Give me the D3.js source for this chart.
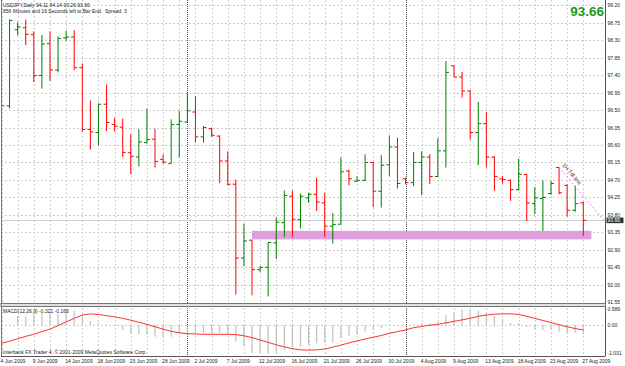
<!DOCTYPE html>
<html>
<head>
<meta charset="utf-8">
<script src="https://cdn.jsdelivr.net/npm/d3@7"></script>
<style>
  html, body { margin: 0; padding: 0; background: #fff; }
  svg { display: block; font-family: "Liberation Sans", Arial, sans-serif; }
</style>
</head>
<body>
<div id="chart"></div>
<script>
// USDJPY daily bars, 4 Jun 2009 .. 27 Aug 2009 (Sunday bars included)
const opens  = [96.30,96.61,98.57,98.62,98.44,97.39,98.21,97.53,98.36,98.38,97.59,96.00,95.92,96.65,96.13,96.06,95.40,95.29,95.66,95.75,
                95.23,95.12,96.13,96.19,96.45,95.81,96.02,95.83,95.19,94.59,92.69,93.15,92.39,92.45,93.08,93.60,94.28,93.68,94.24,94.33,
                94.11,93.51,93.56,94.93,94.67,94.69,95.15,94.41,95.09,95.55,94.73,94.63,95.15,95.29,94.79,95.45,97.64,97.35,96.99,95.92,
                96.15,95.29,94.73,94.69,94.45,94.84,94.09,94.22,94.35,95.02,94.56,93.92,94.11];
const highs  = [96.94,98.83,98.76,98.83,98.53,98.43,98.53,98.40,98.54,98.56,97.70,96.75,96.67,97.16,96.30,96.28,95.88,96.01,96.54,96.02,
                95.36,96.26,96.48,96.96,96.86,96.09,96.05,95.85,95.44,94.71,93.58,93.16,92.48,93.10,93.73,94.43,94.43,94.35,94.37,94.76,
                94.37,93.85,95.28,94.97,94.80,95.36,95.16,95.34,95.85,95.79,94.76,95.42,95.44,95.36,95.78,97.76,97.65,97.48,97.01,96.71,
                96.45,95.31,94.80,94.71,95.25,94.85,94.52,94.69,94.67,95.03,94.59,94.56,94.14];
const lows   = [95.94,96.54,98.42,98.17,97.22,97.05,97.25,97.47,98.28,97.53,95.94,95.48,95.59,95.96,95.95,95.29,94.85,95.05,95.64,95.02,
                95.12,95.12,95.28,96.17,95.66,95.66,95.81,94.62,94.56,91.75,92.48,91.73,92.33,91.70,92.67,93.23,93.23,93.45,94.11,93.90,
                93.23,93.06,93.56,94.56,94.65,94.67,94.00,93.99,94.80,94.48,94.59,94.54,94.31,94.59,94.78,95.02,97.35,96.82,95.74,95.08,
                95.02,94.42,94.61,94.16,94.43,93.64,93.82,93.39,94.31,94.33,93.76,93.88,93.26];
const closes = [96.61,98.81,98.64,98.45,97.39,98.20,97.53,98.34,98.38,97.59,96.00,95.94,96.65,96.18,96.08,95.41,95.31,95.68,95.74,95.18,
                95.16,96.13,96.21,96.48,95.81,96.05,95.85,95.19,94.59,92.69,93.13,92.39,92.45,93.09,93.61,94.30,93.69,94.28,94.33,94.13,
                93.51,93.55,94.91,94.73,94.69,95.15,94.41,95.08,95.55,94.61,94.63,95.15,95.29,94.79,95.45,97.47,97.35,96.99,95.92,96.15,
                95.29,94.79,94.71,94.45,94.85,94.11,94.24,94.25,94.61,94.37,93.92,94.09,93.66];

// MACD(12,26,9): main (histogram) and signal
const macdMain = [-0.33,0.02,0.30,0.28,0.37,0.37,0.39,0.37,0.41,0.47,0.28,0.13,0.06,0.03,0.00,-0.17,-0.28,-0.31,-0.33,-0.39,
                  -0.42,-0.39,-0.31,-0.28,-0.26,-0.26,-0.26,-0.26,-0.28,-0.56,-0.72,-0.94,-0.94,-0.97,-0.92,-0.83,-0.74,-0.72,-0.67,-0.61,
                  -0.59,-0.59,-0.44,-0.37,-0.33,-0.22,-0.17,-0.11,-0.03,-0.02,0.00,0.01,0.06,0.06,0.11,0.33,0.44,0.52,0.50,0.48,
                  0.39,0.30,0.19,0.08,0.06,-0.06,-0.14,-0.17,-0.14,-0.22,-0.28,-0.26,-0.321];
const macdSignal = [-0.61,-0.54,-0.46,-0.38,-0.31,-0.22,-0.14,-0.02,0.10,0.22,0.33,0.37,0.35,0.31,0.27,0.22,0.16,0.09,0.02,-0.06,
                    -0.14,-0.21,-0.26,-0.29,-0.30,-0.31,-0.31,-0.31,-0.31,-0.32,-0.36,-0.42,-0.50,-0.58,-0.66,-0.73,-0.79,-0.83,-0.84,-0.83,
                    -0.80,-0.74,-0.67,-0.60,-0.53,-0.47,-0.41,-0.35,-0.28,-0.22,-0.17,-0.09,-0.05,-0.01,0.02,0.07,0.12,0.17,0.22,0.29,
                    0.33,0.36,0.37,0.37,0.35,0.29,0.22,0.15,0.08,0.01,-0.06,-0.12,-0.166];

// date axis labels (bar index, text)
const dateTicks = [[0,"4 Jun 2009"],[4,"9 Jun 2009"],[8,"14 Jun 2009"],[12,"18 Jun 2009"],[16,"23 Jun 2009"],[20,"28 Jun 2009"],
                   [24,"2 Jul 2009"],[28,"7 Jul 2009"],[32,"12 Jul 2009"],[36,"16 Jul 2009"],[40,"21 Jul 2009"],[44,"26 Jul 2009"],
                   [48,"30 Jul 2009"],[52,"4 Aug 2009"],[56,"9 Aug 2009"],[60,"13 Aug 2009"],[64,"18 Aug 2009"],[68,"23 Aug 2009"],
                   [72,"27 Aug 2009"]];
const monthStarts = [23, 50];
const priceTicks = ["99.20","98.75","98.30","97.85","97.40","96.95","96.50","96.05","95.60","95.15","94.70","94.25",
                    "93.80","93.35","92.90","92.45","92.00","91.55"];
const macdTicks = ["0.589","0.00","-1.031"];

const symbolText = "USDJPY,Daily  94.11 94.14 93.26 93.66";
const timerText = "856 Minutes and 16 Seconds left to Bar End.";
const spreadText = "Spread: 3";
const macdText = "MACD(12,26,9) -0.321 -0.166";
const copyText = "Interbank FX Trader 4, \u00a9 2001-2009 MetaQuotes Software Corp.";
const lastPrice = 93.66;
const zone = {from: 31, to: 73, top: 93.39, bottom: 93.17};
const trendPts = [[69, 95.03], [74.7, 93.62]];
const trendLabel = "1H Tdl line";

const W = 625, H = 366;
const right = 605.5;
const pTop = 0, pBot = 303.5, mTop = 306.5, mBot = 356;

const svg = d3.select("#chart").append("svg").attr("width", W).attr("height", H);

const x = d3.scaleLinear().domain([0, 72]).range([1.5, 583.3]);
const y = d3.scaleLinear().domain([91.55, 99.20]).range([302.3, 5.2]);
const ym = d3.scaleLinear().domain([-1.031, 0.589]).range([355.9, 307.3]);

svg.append("defs").append("clipPath").attr("id", "pclip")
  .append("rect").attr("x", 1).attr("y", pTop).attr("width", right - 1).attr("height", pBot - pTop);

const gridColor = "#cfcfcf";

// horizontal grid (price)
svg.append("g").selectAll("line").data(priceTicks.slice(0, -1)).join("line")
  .attr("x1", 1).attr("x2", right).attr("y1", d => Math.round(y(+d)) + 0.5).attr("y2", d => Math.round(y(+d)) + 0.5)
  .attr("stroke", gridColor).attr("stroke-dasharray", "2,2");
// zero line of MACD
svg.append("line").attr("x1", 1).attr("x2", right).attr("y1", Math.round(ym(0)) + 0.5).attr("y2", Math.round(ym(0)) + 0.5)
  .attr("stroke", gridColor).attr("stroke-dasharray", "2,2");

// vertical grid every 2 bars
const vgrid = d3.range(0, 73, 2);
svg.append("g").selectAll("line").data(vgrid).join("line")
  .attr("x1", d => Math.round(x(d)) + 0.5).attr("x2", d => Math.round(x(d)) + 0.5)
  .attr("y1", pTop).attr("y2", mBot)
  .attr("stroke", gridColor).attr("stroke-dasharray", "2,2");

// month separators
svg.append("g").selectAll("line").data(monthStarts).join("line")
  .attr("x1", d => Math.round(x(d)) + 0.5).attr("x2", d => Math.round(x(d)) + 0.5)
  .attr("y1", pTop).attr("y2", mBot)
  .attr("stroke", "#555").attr("stroke-dasharray", "1,1");

// support zone rectangle
svg.append("rect")
  .attr("x", x(zone.from)).attr("width", x(zone.to) - x(zone.from))
  .attr("y", y(zone.top)).attr("height", y(zone.bottom) - y(zone.top))
  .attr("fill", "#dda0dd");

// bid line
svg.append("line").attr("x1", 1).attr("x2", right)
  .attr("y1", Math.round(y(lastPrice)) + 0.5).attr("y2", Math.round(y(lastPrice)) + 0.5)
  .attr("stroke", "#d0d0d0");

// OHLC bars
const bars = svg.append("g").attr("clip-path", "url(#pclip)");
d3.range(opens.length).forEach(i => {
  const col = closes[i] >= opens[i] ? "#008000" : "#ff0000";
  const cx = x(i);
  const g = bars.append("g").attr("stroke", col).attr("stroke-width", 1);
  g.append("line").attr("x1", cx).attr("x2", cx).attr("y1", y(highs[i])).attr("y2", y(lows[i]));
  g.append("line").attr("x1", cx - 3).attr("x2", cx).attr("y1", y(opens[i])).attr("y2", y(opens[i]));
  g.append("line").attr("x1", cx).attr("x2", cx + 3).attr("y1", y(closes[i])).attr("y2", y(closes[i]));
});

// trend line with label
const tl = d3.line().x(d => x(d[0])).y(d => y(d[1]));
svg.append("path").attr("d", tl(trendPts)).attr("fill", "none")
  .attr("stroke", "#ee82ee").attr("stroke-dasharray", "2,2").attr("clip-path", "url(#pclip)");
const ang = Math.atan2(y(trendPts[1][1]) - y(trendPts[0][1]), x(trendPts[1][0]) - x(trendPts[0][0])) * 180 / Math.PI;
svg.append("text").attr("transform", `translate(${x(trendPts[0][0]) + 3},${y(trendPts[0][1]) - 2}) rotate(${ang})`)
  .attr("font-size", 5.5).attr("fill", "#333").text(trendLabel);

// MACD histogram
svg.append("g").selectAll("line").data(macdMain).join("line")
  .attr("x1", (d, i) => x(i)).attr("x2", (d, i) => x(i))
  .attr("y1", ym(0)).attr("y2", d => ym(d))
  .attr("stroke", "#c0c0c0").attr("stroke-width", 1.2);
// MACD signal
svg.append("path").datum(macdSignal)
  .attr("d", d3.line().x((d, i) => x(i)).y(d => ym(d)))
  .attr("fill", "none").attr("stroke", "#ff3030").attr("stroke-width", 1);

// panel frames
svg.append("line").attr("x1", 1.5).attr("x2", 1.5).attr("y1", 0).attr("y2", mBot).attr("stroke", "#777");
svg.append("line").attr("x1", right).attr("x2", right).attr("y1", 0).attr("y2", mBot).attr("stroke", "#555");
svg.append("rect").attr("x", 1).attr("y", pBot).attr("width", right - 1).attr("height", mTop - pBot)
  .attr("fill", "#e0e0e0").attr("stroke", "#777").attr("stroke-width", 1);
svg.append("line").attr("x1", 1).attr("x2", right).attr("y1", mBot + 0.5).attr("y2", mBot + 0.5).attr("stroke", "#555");

// price axis labels
svg.append("g").selectAll("text").data(priceTicks).join("text")
  .attr("x", right + 2).attr("y", d => y(+d) + 2)
  .attr("font-size", 5).attr("fill", "#222").text(d => d);
// current price box
svg.append("rect").attr("x", right + 1).attr("y", y(lastPrice) - 2.8).attr("width", 17).attr("height", 5.6).attr("fill", "#333");
svg.append("text").attr("x", right + 2).attr("y", y(lastPrice) + 2).attr("font-size", 5).attr("fill", "#fff").text(lastPrice.toFixed(2));

// MACD axis labels
svg.append("g").selectAll("text").data(macdTicks).join("text")
  .attr("x", right + 2).attr("y", d => Math.min(Math.max(ym(+d), 309), 353) + 2)
  .attr("font-size", 5).attr("fill", "#222").text(d => d);

// date labels
svg.append("g").selectAll("text").data(dateTicks).join("text")
  .attr("x", d => x(d[0]) - 1).attr("y", 363)
  .attr("font-size", 5).attr("fill", "#222").text(d => d[1]);

// header texts
svg.append("text").attr("x", 3).attr("y", 6.5).attr("font-size", 5).attr("fill", "#222").text(symbolText);
svg.append("text").attr("x", 3).attr("y", 12.5).attr("font-size", 5).attr("fill", "#222").text(timerText);
svg.append("text").attr("x", 105).attr("y", 12.5).attr("font-size", 5).attr("fill", "#222").text(spreadText);
svg.append("text").attr("x", 3).attr("y", 313).attr("font-size", 5).attr("fill", "#222").text(macdText);
svg.append("text").attr("x", 3).attr("y", 354).attr("font-size", 5).attr("fill", "#222").text(copyText);
svg.append("text").attr("x", 604).attr("y", 16).attr("text-anchor", "end")
  .attr("font-size", 13.5).attr("font-weight", "bold").attr("fill", "#1e961e").text(lastPrice.toFixed(2));
</script>
</body>
</html>
